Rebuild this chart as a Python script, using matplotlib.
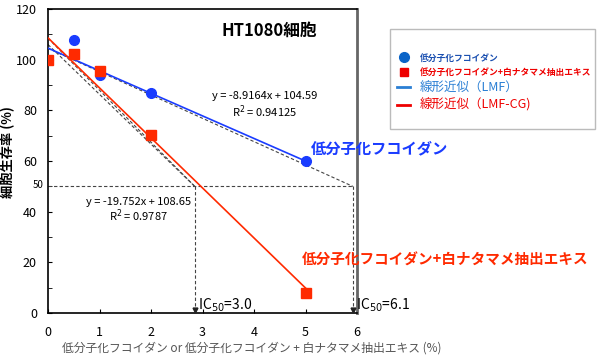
import matplotlib
matplotlib.use('Agg')
import matplotlib.pyplot as plt
from matplotlib.lines import Line2D
from matplotlib.patches import Rectangle

plt.rcParams['font.family'] = ['Noto Sans CJK JP', 'DejaVu Sans']

# measured points
conc = [0, 0.5, 1, 2, 5]
lmf = [100, 107.8, 93.9, 86.8, 59.9]
lmf_cg = [100, 102.3, 95.7, 70.1, 7.8]

# linear fits (from the chart labels)
lmf_slope, lmf_icpt = -8.9164, 104.59
cg_slope, cg_icpt = -19.752, 108.65
fit_x = [0, 5]

# hand-drawn IC50 guides
ic50_cg, ic50_lmf = 2.85, 5.92
guide_lmf_y0 = [104.5]
guide_cg_y0 = [108.5, 106.0]

blue = '#1a3cff'
red = '#ff2a00'

fig = plt.figure(figsize=(6, 3.64), dpi=100)
ax = fig.add_axes([0.08, 0.14, 0.515, 0.835])

ax.plot(fit_x, [lmf_icpt + lmf_slope * x for x in fit_x], color=blue, lw=1.2, zorder=3)
ax.plot(fit_x, [cg_icpt + cg_slope * x for x in fit_x], color=red, lw=1.2, zorder=3)
ax.plot(conc, lmf, 'o', color=blue, ms=7, zorder=4)
ax.plot(conc, lmf_cg, 's', color=red, ms=7, zorder=4)

dash = dict(color='#444444', lw=0.8, ls=(0, (3, 2)), zorder=2)
for y0 in guide_lmf_y0:
    ax.plot([0, ic50_lmf], [y0, 50], **dash)
for y0 in guide_cg_y0:
    ax.plot([0, ic50_cg], [y0, 50], **dash)
ax.plot([0, ic50_lmf], [50, 50], **dash)
for xv in (ic50_cg, ic50_lmf):
    ax.plot([xv, xv], [50, 1.5], **dash)
    ax.plot([xv], [1.2], marker='v', color='#222222', ms=3.5, zorder=3)

ax.set_xlim(0, 6)
ax.set_ylim(0, 120)
ax.set_xticks(range(0, 7))
ax.set_yticks(range(0, 121, 20))
ax.set_yticks(range(10, 120, 20), minor=True)
ax.tick_params(direction='in', length=3, labelsize=9)
ax.tick_params(axis='x', pad=9)
ax.tick_params(axis='y', pad=8)
ax.tick_params(which='minor', direction='in', length=3)
for s in ('left', 'bottom', 'top'):
    ax.spines[s].set_linewidth(1.2)
ax.spines['right'].set_color('#666666')
ax.spines['right'].set_linewidth(2)

ax.text(-0.08, 50.5, '50', fontsize=7, ha='right', va='center', clip_on=False)

ax.text(4.3, 111.5, 'HT1080細胞', fontsize=12, fontweight='bold', ha='center', va='center')
ax.text(4.2, 85.5, 'y = -8.9164x + 104.59', fontsize=8, ha='center', va='center')
ax.text(4.2, 79.6, 'R$^2$ = 0.94125', fontsize=8, ha='center', va='center')
ax.text(1.75, 44, 'y = -19.752x + 108.65', fontsize=8, ha='center', va='center')
ax.text(1.75, 38.4, 'R$^2$ = 0.9787', fontsize=8, ha='center', va='center')
ax.text(5.1, 65, '低分子化フコイダン', fontsize=11, fontweight='bold', color=blue,
        ha='left', va='center', clip_on=False)
ax.text(4.93, 21, '低分子化フコイダン+白ナタマメ抽出エキス', fontsize=10.5,
        fontweight='bold', color=red, ha='left', va='center', clip_on=False)
ax.text(2.92, 3, 'IC$_{50}$=3.0', fontsize=10, ha='left', va='center')
ax.text(5.98, 3, 'IC$_{50}$=6.1', fontsize=10, ha='left', va='center', clip_on=False)

ax.set_ylabel('細胞生存率 (%)', fontsize=9.5, fontweight='bold')
ax.yaxis.set_label_coords(-0.105, 0.53)
ax.set_xlabel('低分子化フコイダン or 低分子化フコイダン + 白ナタマメ抽出エキス (%)',
              fontsize=8.5, color='#555555')
ax.xaxis.set_label_coords(0.66, -0.095)

fig.patches.append(Rectangle((0.65, 0.646), 0.342, 0.274, transform=fig.transFigure,
                             fill=False, edgecolor='#bbbbbb', lw=1))
handles = [
    Line2D([], [], marker='o', ls='none', color='#0a64c8', ms=7),
    Line2D([], [], marker='s', ls='none', color='#ee0000', ms=6),
    Line2D([], [], color='#2a7fd4', lw=2),
    Line2D([], [], color='#ee0000', lw=2),
]
labels = ['低分子化フコイダン', '低分子化フコイダン+白ナタマメ抽出エキス',
          '線形近似（LMF）', '線形近似（LMF-CG)']
leg = fig.legend(handles, labels, loc='upper left', bbox_to_anchor=(0.652, 0.872),
                 frameon=False, handlelength=1.0, handletextpad=0.8,
                 labelspacing=0.3, borderpad=0, fontsize=9)
text_colors = ['#1a4fb0', '#ee0000', '#2a7fd4', '#ee0000']
for i, t in enumerate(leg.get_texts()):
    t.set_color(text_colors[i])
    if i < 2:
        t.set_fontsize(6.3)
        t.set_fontweight('bold')

fig.savefig('out.png', dpi=100)
